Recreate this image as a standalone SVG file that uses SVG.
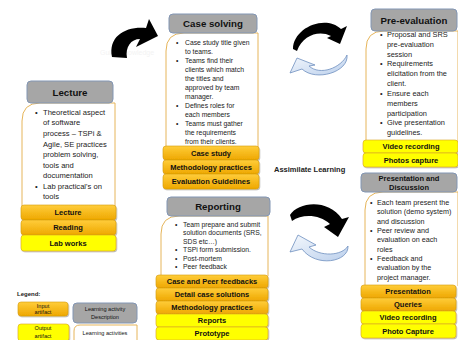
<svg xmlns="http://www.w3.org/2000/svg" width="458" height="340" viewBox="0 0 458 340">
<defs>
<linearGradient id="og" x1="0" y1="0" x2="0" y2="1"><stop offset="0" stop-color="#ffcd3a"/><stop offset="1" stop-color="#eea700"/></linearGradient>
<linearGradient id="bg" x1="0" y1="0" x2="1" y2="1"><stop offset="0" stop-color="#f4f8fd"/><stop offset="1" stop-color="#bcd0ec"/></linearGradient>
<filter id="sh" x="-10%" y="-20%" width="120%" height="160%"><feDropShadow dx="0.8" dy="1" stdDeviation="0.7" flood-color="#000" flood-opacity="0.3"/></filter>
</defs>
<style>
text{font-family:"Liberation Sans",Arial,sans-serif;fill:#222}
.hd{fill:#a6a6a6;stroke:#8296b4;stroke-width:1}
.ht{font-weight:bold;font-size:9.7px;text-anchor:middle;fill:#111}
.body{fill:#fff;stroke:#e6b55a;stroke-width:1}
.ob{fill:url(#og);stroke:#d49a10;stroke-width:0.6;filter:url(#sh)}
.yb{fill:#ffff00;stroke:#d9a21a;stroke-width:0.6;filter:url(#sh)}
.bt{font-weight:bold;font-size:7.5px;text-anchor:middle;fill:#111}
.blk{fill:#000}
.blu{fill:url(#bg);stroke:#6f8fbf;stroke-width:0.8}
.lg{font-size:5.6px;text-anchor:middle;fill:#111}
</style>
<rect width="458" height="340" fill="#fff"/>
<text x="100" y="55" font-size="7" style="fill:#f3f3f3">Guide knowledge</text>

<g id="connectors">
<path class="blk" d="M112,57 C108,36 126,26 146,28 L149,19 L158,36 L136,47 L140,39 C131,39 125,47 127,58 Z"/>
<path class="blk" d="M293,49 C293,28 325,14 341,29 L347,26 L340,44 L327,38 L331,36 C319,30 303,35 297,51 Z"/>
<path class="blu" d="M347,55 C349,72 316,82 302,69 L290,73 L297,58 L315,65 L309,66 C320,76 341,68 347,55 Z"/>
<path class="blk" d="M290,215 C298,202 328,198 342,219 L349,217 L338,237 L324,227 L330,224 C319,214 302,214 292,221 Z"/>
<path class="blu" d="M348,246 C349,262 316,268 302,249 L290,252 L298,235 L316,245 L309,247 C320,257 342,256 348,246 Z"/>
</g>

<text x="274" y="172" font-size="7.5" font-weight="bold" fill="#111">Assimilate Learning</text>

<g id="lecture">
<path class="body" d="M22,206 L22,121 Q22,103 40,103 L115,103 L115,206"/>
<rect class="hd" x="27" y="81" width="86" height="22" rx="4"/>
<text class="ht" x="70" y="95.5">Lecture</text>
<g font-size="7.6">
<text x="35" y="114.8">•</text><text x="43" y="114.8">Theoretical aspect</text>
<text x="43" y="125.4">of software</text>
<text x="43" y="135.9">process – TSPi &amp;</text>
<text x="43" y="146.5">Agile, SE practices</text>
<text x="43" y="157">problem solving,</text>
<text x="43" y="167.6">tools and</text>
<text x="43" y="178.1">documentation</text>
<text x="35" y="188.7">•</text><text x="43" y="188.7">Lab practical's on</text>
<text x="43" y="199.2">tools</text>
</g>
<rect class="ob" x="21" y="205" width="95" height="15" rx="3"/><text class="bt" x="68" y="215">Lecture</text>
<rect class="ob" x="21" y="220" width="95" height="15" rx="3"/><text class="bt" x="68" y="230">Reading</text>
<rect class="yb" x="21" y="235" width="95" height="16" rx="3"/><text class="bt" x="68" y="245.5">Lab works</text>
</g>

<g id="case-solving">
<path class="body" d="M166,147 L166,51 Q166,33 184,33 L258,33 L258,147"/>
<rect class="hd" x="169" y="14" width="88" height="19" rx="4"/>
<text class="ht" x="213" y="27">Case solving</text>
<g font-size="6.8">
<text x="176" y="44.5">•</text><text x="185" y="44.5">Case study title given</text>
<text x="185" y="53.5">to teams.</text>
<text x="176" y="62.5">•</text><text x="185" y="62.5">Teams find their</text>
<text x="185" y="71.5">clients which match</text>
<text x="185" y="80.5">the titles and</text>
<text x="185" y="89.5">approved by team</text>
<text x="185" y="98.5">manager.</text>
<text x="176" y="107.5">•</text><text x="185" y="107.5">Defines roles for</text>
<text x="185" y="116.5">each members</text>
<text x="176" y="125.5">•</text><text x="185" y="125.5">Teams must gather</text>
<text x="185" y="134.5">the requirements</text>
<text x="185" y="143.5">from their clients.</text>
</g>
<rect class="ob" x="163" y="146" width="96" height="14" rx="3"/><text class="bt" x="211" y="155.8">Case study</text>
<rect class="ob" x="163" y="160" width="96" height="14" rx="3"/><text class="bt" x="211" y="169.8">Methodology practices</text>
<rect class="ob" x="163" y="174" width="96" height="15" rx="3"/><text class="bt" x="211" y="184.3">Evaluation Guidelines</text>
</g>

<g id="pre-evaluation">
<path class="body" d="M366,141 L366,49 Q366,31 384,31 L458,31 L458,141"/>
<rect class="hd" x="371" y="9" width="86" height="22" rx="4"/>
<text class="ht" x="414" y="23.5">Pre-evaluation</text>
<g font-size="7.4">
<text x="380" y="36.8">•</text><text x="387" y="36.8">Proposal and SRS</text>
<text x="387" y="46.6">pre-evaluation</text>
<text x="387" y="56.5">session</text>
<text x="380" y="66.3">•</text><text x="387" y="66.3">Requirements</text>
<text x="387" y="76.2">elicitation from the</text>
<text x="387" y="86">client.</text>
<text x="380" y="95.8">•</text><text x="387" y="95.8">Ensure each</text>
<text x="387" y="105.7">members</text>
<text x="387" y="115.5">participation</text>
<text x="380" y="125.4">•</text><text x="387" y="125.4">Give presentation</text>
<text x="387" y="135.2">guidelines.</text>
</g>
<rect class="yb" x="363" y="140" width="95" height="13" rx="3"/><text class="bt" x="411" y="149.3">Video recording</text>
<rect class="yb" x="363" y="153" width="95" height="14" rx="3"/><text class="bt" x="411" y="162.8">Photos capture</text>
</g>

<g id="presentation">
<path class="body" d="M365,286 L365,210 Q365,192 383,192 L458,192 L458,286"/>
<rect class="hd" x="361" y="173" width="96" height="19" rx="4"/>
<text class="bt" x="409" y="181" font-size="7.6">Presentation and</text>
<text class="bt" x="409" y="190" font-size="7.6">Discussion</text>
<g font-size="7.2">
<text x="370" y="204.8">•</text><text x="377" y="204.8">Each team present the</text>
<text x="377" y="214.2">solution (demo system)</text>
<text x="377" y="223.6">and discussion</text>
<text x="370" y="232.9">•</text><text x="377" y="232.9">Peer review and</text>
<text x="377" y="242.3">evaluation on each</text>
<text x="377" y="251.7">roles</text>
<text x="370" y="261">•</text><text x="377" y="261">Feedback and</text>
<text x="377" y="270.4">evaluation  by the</text>
<text x="377" y="279.8">project manager.</text>
</g>
<rect class="ob" x="361" y="285" width="95" height="13" rx="3"/><text class="bt" x="408" y="294.3">Presentation</text>
<rect class="ob" x="361" y="298" width="95" height="13" rx="3"/><text class="bt" x="408" y="307.3">Queries</text>
<rect class="yb" x="361" y="311" width="95" height="13" rx="3"/><text class="bt" x="408" y="320.3">Video recording</text>
<rect class="yb" x="361" y="324" width="95" height="14" rx="3"/><text class="bt" x="408" y="333.8">Photo Capture</text>
</g>

<g id="reporting">
<path class="body" d="M161,276 L161,234 Q161,216 179,216 L268,216 L268,276"/>
<rect class="hd" x="167" y="197" width="103" height="19" rx="4"/>
<text class="ht" x="218" y="210">Reporting</text>
<g font-size="6.8">
<text x="175" y="226.8">•</text><text x="183" y="226.8">Team prepare and submit</text>
<text x="183" y="235.3">solution documents (SRS,</text>
<text x="183" y="243.8">SDS etc…)</text>
<text x="175" y="252.3">•</text><text x="183" y="252.3">TSPi form submission.</text>
<text x="175" y="260.8">•</text><text x="183" y="260.8">Post-mortem</text>
<text x="175" y="269.3">•</text><text x="183" y="269.3">Peer feedback</text>
</g>
<rect class="ob" x="156" y="275" width="112" height="13" rx="3"/><text class="bt" x="212" y="284.3">Case and Peer feedbacks</text>
<rect class="ob" x="156" y="288" width="112" height="13" rx="3"/><text class="bt" x="212" y="297.3">Detail case solutions</text>
<rect class="ob" x="156" y="301" width="112" height="13" rx="3"/><text class="bt" x="212" y="310.3">Methodology practices</text>
<rect class="yb" x="156" y="314" width="112" height="13" rx="3"/><text class="bt" x="212" y="323.3">Reports</text>
<rect class="yb" x="156" y="327" width="112" height="13" rx="3"/><text class="bt" x="212" y="336.3">Prototype</text>
</g>

<g id="legend">
<text x="17" y="296" font-size="6" font-weight="bold" fill="#111">Legend:</text>
<rect class="ob" x="18" y="302" width="50" height="14" rx="3"/>
<text class="lg" x="43" y="307.5">Input</text><text class="lg" x="43" y="314">artifact</text>
<rect class="yb" x="18" y="324" width="51" height="17" rx="3"/>
<text class="lg" x="43" y="330">Output</text><text class="lg" x="43" y="338">artifact</text>
<rect class="hd" x="73" y="303" width="64" height="20" rx="4"/>
<text class="lg" x="105" y="311">Learning activity</text><text class="lg" x="105" y="319">Description</text>
<path class="body" d="M74,341 L74,331 Q74,325 80,325 L137,325 L137,341"/>
<text class="lg" x="105" y="334.5">Learning activities</text>
</g>
</svg>
